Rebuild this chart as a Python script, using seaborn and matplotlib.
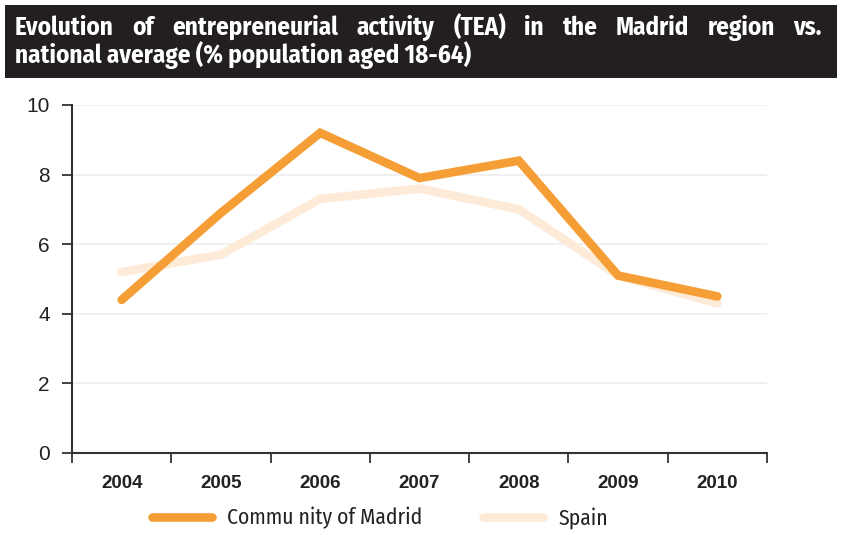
import matplotlib
matplotlib.use("Agg")
import matplotlib.pyplot as plt
from matplotlib.patches import Rectangle
from matplotlib.lines import Line2D
import seaborn as sns
import pandas as pd

years = ["2004", "2005", "2006", "2007", "2008", "2009", "2010"]
madrid = [4.4, 6.9, 9.2, 7.9, 8.4, 5.1, 4.5]
spain = [5.2, 5.7, 7.3, 7.6, 7.0, 5.1, 4.3]
series_names = ["Commu nity of Madrid", "Spain"]
yticks = [0, 2, 4, 6, 8, 10]

title_line1 = "Evolution of entrepreneurial activity (TEA) in the Madrid region vs."
title_line2 = "national average (% population aged 18-64)"

orange = "#f59e35"
cream = "#fdebd8"
axis_col = "#333333"

sns.set_theme(style="white")
plt.rcParams["font.family"] = ["Liberation Sans", "DejaVu Sans"]
cond = ["Fira Sans Condensed", "DejaVu Sans"]

df = pd.DataFrame({
    "pos": list(range(len(years))) * 2,
    "value": madrid + spain,
    "series": [series_names[0]] * len(years) + [series_names[1]] * len(years),
})

fig = plt.figure(figsize=(8.42, 5.35), dpi=100)
ax = fig.add_axes([72 / 842, 1 - 453 / 535, 695 / 842, 348 / 535])

sns.lineplot(data=df, x="pos", y="value", hue="series", hue_order=series_names[::-1],
             palette={series_names[0]: orange, series_names[1]: cream},
             linewidth=6.2, ax=ax, legend=False, sort=False)
for ln in ax.get_lines():
    ln.set_solid_capstyle("round")
    ln.set_solid_joinstyle("miter")

ax.set_xlim(-0.5, len(years) - 0.5)
ax.set_ylim(0, 10)
ax.set_xlabel("")
ax.set_ylabel("")

ax.set_yticks(yticks)
ax.set_yticklabels([str(t) for t in yticks], fontsize=15, color="#222222")
for t in yticks[1:]:
    ax.axhline(t, color="#eeeeee", lw=1.2, zorder=0)

ax.set_xticks([i - 0.5 for i in range(len(years) + 1)])
ax.set_xticklabels([])
ax.set_xticks(range(len(years)), minor=True)
ax.set_xticklabels(years, minor=True, fontsize=13.5, fontweight="bold",
                   color="#222222")
ax.tick_params(axis="x", which="minor", bottom=True, length=0, pad=16)
ax.tick_params(axis="both", which="major", bottom=True, left=True, length=7,
               width=1.3, color=axis_col, direction="out")
ax.tick_params(axis="y", pad=9)

for side in ["top", "right"]:
    ax.spines[side].set_visible(False)
for side in ["left", "bottom"]:
    ax.spines[side].set_color(axis_col)
    ax.spines[side].set_linewidth(1.5)

handles = [Line2D([], [], color=orange, lw=6.2, solid_capstyle="round"),
           Line2D([], [], color=cream, lw=6.2, solid_capstyle="round")]
fig.legend(handles, series_names, loc="center", bbox_to_anchor=(380 / 842, 1 - 518 / 535),
           ncol=2, frameon=False, handlelength=2.8, handletextpad=0.7, columnspacing=2.8,
           prop={"size": 15.5, "family": cond}, labelcolor="#222222")

# dark title banner
fig.patches.append(Rectangle((5 / 842, 1 - 78 / 535), 832 / 842, 73 / 535,
                             transform=fig.transFigure, facecolor="#231f20",
                             edgecolor="none", zorder=0))

tkw = dict(color="white", fontsize=18, fontweight="bold", family=cond,
           va="baseline", ha="left")
# first line justified across the banner
words = title_line1.split(" ")
fig.canvas.draw()
renderer = fig.canvas.get_renderer()
x_left, x_right = 15, 822
texts = [fig.text(0, 0, w, **tkw) for w in words]
widths = [t.get_window_extent(renderer).width for t in texts]
gap = (x_right - x_left - sum(widths)) / (len(words) - 1)
x = x_left
for t, w in zip(texts, widths):
    t.set_position((x / 842, 1 - 35 / 535))
    x += w + gap
fig.text(x_left / 842, 1 - 63 / 535, title_line2, **tkw)

fig.savefig("out.png", dpi=100)
